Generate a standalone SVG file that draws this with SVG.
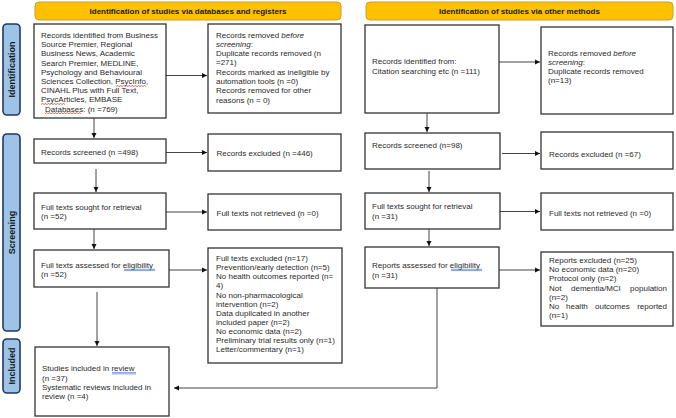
<svg xmlns="http://www.w3.org/2000/svg" width="676" height="418" viewBox="0 0 676 418">
<defs>
<marker id="ah" markerWidth="6" markerHeight="6" refX="5" refY="3" orient="auto" markerUnits="userSpaceOnUse">
<path d="M0,0.5 L5,3 L0,5.5 Z" fill="#111"/>
</marker>
<style>
.hdr{fill:#FFC000;stroke:#C9A227;stroke-width:1}
.hdrt{font-family:"Liberation Sans",Arial,sans-serif;font-size:8px;font-weight:bold;fill:#1a1a1a;text-anchor:middle}
.side{fill:#9DC3E6;stroke:#1F3864;stroke-width:1.6}
.sidet{font-family:"Liberation Sans",Arial,sans-serif;font-size:9px;font-weight:bold;fill:#1a1a1a;text-anchor:middle}
.box{fill:#fff;stroke:#333;stroke-width:1.3}
.t{font-family:"Liberation Sans",Arial,sans-serif;font-size:8px;fill:#2a2a2a}
.c{fill:none;stroke:#444;stroke-width:1}
.red{fill:none;stroke:#d22;stroke-width:0.7}
.blue{fill:none;stroke:#4a78c8;stroke-width:0.7}
</style>
</defs>

<g id="headers">
<g id="header-db"><rect class="hdr" x="35" y="2" width="306" height="18" rx="4"/><text class="hdrt" x="188" y="14">Identification of studies via databases and registers</text></g>
<g id="header-other"><rect class="hdr" x="366" y="2" width="307" height="18" rx="4"/><text class="hdrt" x="519.5" y="14">Identification of studies via other methods</text></g>
</g>

<g id="phases">
<g id="phase-identification"><rect class="side" x="3" y="24" width="17" height="91" rx="4"/><text class="sidet" transform="translate(14.5,69.5) rotate(-90)">Identification</text></g>
<g id="phase-screening"><rect class="side" x="3" y="134" width="17" height="197" rx="4"/><text class="sidet" transform="translate(14.5,232.5) rotate(-90)">Screening</text></g>
<g id="phase-included"><rect class="side" x="3" y="339" width="17" height="54" rx="4"/><text class="sidet" transform="translate(14.5,366) rotate(-90)">Included</text></g>
</g>

<g id="connectors">
<line class="c" x1="166" y1="75.5" x2="207" y2="75.5" marker-end="url(#ah)"/>
<line class="c" x1="94" y1="118" x2="94" y2="138" marker-end="url(#ah)"/>
<line class="c" x1="166" y1="152.5" x2="207" y2="152.5" marker-end="url(#ah)"/>
<line class="c" x1="96" y1="169" x2="96" y2="192" marker-end="url(#ah)"/>
<line class="c" x1="166" y1="212" x2="207" y2="212" marker-end="url(#ah)"/>
<line class="c" x1="94" y1="229" x2="94" y2="249" marker-end="url(#ah)"/>
<line class="c" x1="169" y1="270" x2="207" y2="270" marker-end="url(#ah)"/>
<line class="c" x1="97" y1="292" x2="97" y2="346" marker-end="url(#ah)"/>
<polyline class="c" points="437,288 437,388 174,388" marker-end="url(#ah)"/>
<line class="c" x1="499" y1="62" x2="540" y2="62" marker-end="url(#ah)"/>
<line class="c" x1="427" y1="113" x2="427" y2="132" marker-end="url(#ah)"/>
<line class="c" x1="502" y1="153.5" x2="540" y2="153.5" marker-end="url(#ah)"/>
<line class="c" x1="429" y1="171" x2="429" y2="192" marker-end="url(#ah)"/>
<line class="c" x1="500" y1="211.5" x2="540" y2="211.5" marker-end="url(#ah)"/>
<line class="c" x1="429" y1="229" x2="429" y2="246" marker-end="url(#ah)"/>
<line class="c" x1="499" y1="270" x2="540" y2="270" marker-end="url(#ah)"/>
</g>

<g id="db-identified">
<rect class="box" x="34" y="24" width="132" height="94"/>
<text class="t" x="41" y="38">Records identified from Business</text>
<text class="t" x="41" y="47.2">Source Premier, Regional</text>
<text class="t" x="41" y="56.4">Business News, Academic</text>
<text class="t" x="41" y="65.6">Search Premier, MEDLINE,</text>
<text class="t" x="41" y="74.8">Psychology and Behavioural</text>
<text class="t" x="41" y="84">Sciences Collection, PsycInfo,</text>
<text class="t" x="41" y="93.2">CINAHL Plus with Full Text,</text>
<text class="t" x="41" y="102.4">PsycArticles, EMBASE</text>
<text class="t" x="45" y="111.6">Databases: (n =769)</text>
<path class="red" d="M116,86.5 l1.5,-1 l1.5,1 l1.5,-1 l1.5,1 l1.5,-1 l1.5,1 l1.5,-1 l1.5,1 l1.5,-1 l1.5,1 l1.5,-1 l1.5,1 l1.5,-1 l1.5,1 l1.5,-1 l1.5,1 l1.5,-1 l1.5,1 l1.5,-1 l1.5,1"/>
<path class="red" d="M41,104.5 l1.5,-1 l1.5,1 l1.5,-1 l1.5,1 l1.5,-1 l1.5,1 l1.5,-1 l1.5,1 l1.5,-1 l1.5,1 l1.5,-1 l1.5,1 l1.5,-1 l1.5,1 l1.5,-1 l1.5,1"/>
<path class="red" d="M45,113.7 l1.5,-1 l1.5,1 l1.5,-1 l1.5,1 l1.5,-1 l1.5,1 l1.5,-1 l1.5,1 l1.5,-1 l1.5,1 l1.5,-1 l1.5,1 l1.5,-1 l1.5,1 l1.5,-1 l1.5,1 l1.5,-1 l1.5,1 l1.5,-1 l1.5,1 l1.5,-1 l1.5,1 l1.5,-1 l1.5,1"/>
</g>

<g id="db-removed">
<rect class="box" x="208" y="24" width="133" height="89"/>
<text class="t" x="216" y="37.5">Records removed <tspan font-style="italic">before</tspan></text>
<text class="t" x="216" y="46.8"><tspan font-style="italic">screening</tspan>:</text>
<text class="t" x="216" y="56.1">Duplicate records removed  (n</text>
<text class="t" x="216" y="65.4">=271)</text>
<text class="t" x="216" y="74.7">Records marked as ineligible by</text>
<text class="t" x="216" y="84">automation tools (n =0)</text>
<text class="t" x="216" y="93.3">Records removed for other</text>
<text class="t" x="216" y="102.6">reasons (n = 0)</text>
</g>

<g id="db-screened">
<rect class="box" x="34" y="139" width="132" height="24"/>
<text class="t" x="41" y="154.5">Records screened (n =498)</text>
</g>
<g id="db-excluded">
<rect class="box" x="208" y="134" width="133" height="37"/>
<text class="t" x="216.5" y="156">Records excluded (n =446)</text>
</g>

<g id="db-sought">
<rect class="box" x="34" y="193" width="132" height="36"/>
<text class="t" x="41" y="209.5">Full texts sought for retrieval</text>
<text class="t" x="41" y="219">(n =52)</text>
</g>
<g id="db-notretrieved">
<rect class="box" x="208" y="194" width="133" height="36"/>
<text class="t" x="216.5" y="215.5">Full texts not retrieved (n =0)</text>
</g>

<g id="db-assessed">
<rect class="box" x="34" y="250" width="135" height="37"/>
<text class="t" x="41" y="268">Full texts assessed for eligibility</text>
<text class="t" x="41" y="277.3">(n =52)</text>
<line class="blue" x1="124" y1="269.3" x2="155" y2="269.3"/>
<line class="blue" x1="124" y1="270.6" x2="155" y2="270.6"/>
</g>
<g id="db-fulltextexcluded">
<rect class="box" x="208" y="248" width="134" height="115"/>
<text class="t" x="216" y="260.7">Full texts excluded (n=17)</text>
<text class="t" x="216" y="269.8">Prevention/early detection (n=5)</text>
<text class="t" x="216" y="279">No health outcomes reported (n=</text>
<text class="t" x="216" y="288.2">4)</text>
<text class="t" x="216" y="297.5">No non-pharmacological</text>
<text class="t" x="216" y="306.7">intervention (n=2)</text>
<text class="t" x="216" y="316">Data duplicated in another</text>
<text class="t" x="216" y="325.2">included paper (n=2)</text>
<text class="t" x="216" y="334.2">No economic data (n=2)</text>
<text class="t" x="216" y="343.3">Preliminary trial results only (n=1)</text>
<text class="t" x="216" y="352.4">Letter/commentary (n=1)</text>
</g>

<g id="included">
<rect class="box" x="35" y="347" width="134" height="69"/>
<text class="t" x="42" y="371.3">Studies included in review</text>
<text class="t" x="42" y="380.7">(n =37)</text>
<text class="t" x="42" y="390">Systematic reviews included in</text>
<text class="t" x="42" y="399.3">review (n =4)</text>
<line class="blue" x1="112" y1="372.6" x2="136" y2="372.6"/>
<line class="blue" x1="112" y1="373.9" x2="136" y2="373.9"/>
</g>

<g id="other-identified">
<rect class="box" x="365" y="25" width="134" height="88"/>
<text class="t" x="372" y="64">Records identified from:</text>
<text class="t" x="372" y="73.5">Citation searching etc (n =111)</text>
</g>
<g id="other-removed">
<rect class="box" x="541" y="27" width="132" height="87"/>
<text class="t" x="548" y="55.7">Records removed <tspan font-style="italic">before</tspan></text>
<text class="t" x="548" y="65"><tspan font-style="italic">screening</tspan>:</text>
<text class="t" x="548" y="74.2">Duplicate records removed</text>
<text class="t" x="548" y="83.4">(n=13)</text>
</g>

<g id="other-screened">
<rect class="box" x="365" y="133" width="135" height="36"/>
<text class="t" x="372" y="148">Records screened (n=98)</text>
</g>
<g id="other-excluded">
<rect class="box" x="541" y="132" width="132" height="37"/>
<text class="t" x="549" y="157">Records excluded (n =67)</text>
</g>

<g id="other-sought">
<rect class="box" x="365" y="193" width="135" height="36"/>
<text class="t" x="372" y="209">Full texts sought for retrieval</text>
<text class="t" x="372" y="218.7">(n =31)</text>
</g>
<g id="other-notretrieved">
<rect class="box" x="541" y="193" width="132" height="37"/>
<text class="t" x="549" y="215.5">Full texts not retrieved (n =0)</text>
</g>

<g id="other-assessed">
<rect class="box" x="365" y="247" width="134" height="41"/>
<text class="t" x="372" y="268">Reports assessed for eligibility</text>
<text class="t" x="372" y="278">(n =31)</text>
<line class="blue" x1="451" y1="269.3" x2="482" y2="269.3"/>
<line class="blue" x1="451" y1="270.6" x2="482" y2="270.6"/>
</g>
<g id="other-reportsexcluded">
<rect class="box" x="541" y="252" width="132" height="74"/>
<text class="t" x="549" y="262.5">Reports excluded (n=25)</text>
<text class="t" x="549" y="272">No economic data (n=20)</text>
<text class="t" x="549" y="281.3">Protocol only (n=2)</text>
<text class="t" x="549" y="290.7">Not</text>
<text class="t" x="571" y="290.7">dementia/MCI</text>
<text class="t" x="667" y="290.7" text-anchor="end">population</text>
<text class="t" x="549" y="299.7">(n=2)</text>
<text class="t" x="549" y="308.7">No</text>
<text class="t" x="566" y="308.7">health</text>
<text class="t" x="595" y="308.7">outcomes</text>
<text class="t" x="667" y="308.7" text-anchor="end">reported</text>
<text class="t" x="549" y="318">(n=1)</text>
</g>
</svg>
